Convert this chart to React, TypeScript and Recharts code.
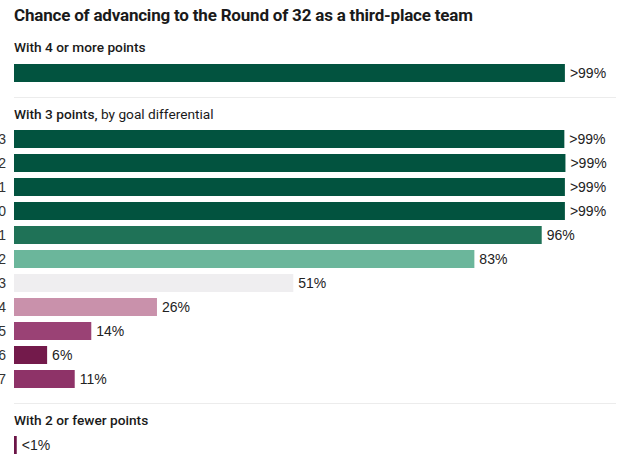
import { BarChart, Bar, XAxis, YAxis, LabelList, Cell } from 'recharts'

const topValues = [99.8]
const topLabels = ['>99%']

const goalDiffs = ['+3', '+2', '+1', '0', '−1', '−2', '−3', '−4', '−5', '−6', '−7']
const goalDiffValues = [99.7, 99.9, 99.8, 99.8, 95.6, 83.4, 50.6, 25.9, 14, 6, 11]
const goalDiffLabels = ['>99%', '>99%', '>99%', '>99%', '96%', '83%', '51%', '26%', '14%', '6%', '11%']

const lowValues = [0.5]
const lowLabels = ['<1%']

const goalDiffColors = [
  '#02533f', '#02533f', '#02533f', '#02533f', '#1f7257', '#6bb69b',
  '#efeef0', '#c991ab', '#9a4275', '#731a4b', '#8e3368',
]

const FONT = 'Roboto, "Noto Sans", sans-serif'
const NUM_FONT = '"Liberation Sans", Arial, sans-serif'
const labelStyle = { fill: '#222', fontSize: 14, fontFamily: NUM_FONT }

function RowChart({ rows, height, showTicks }: {
  rows: { name: string; value: number; label: string; color: string }[]
  height: number
  showTicks?: boolean
}) {
  return (
    <BarChart
      width={623}
      height={height}
      data={rows}
      layout="vertical"
      margin={{ top: 0, right: 57, bottom: 0, left: showTicks ? 0 : 14 }}
    >
      <XAxis type="number" domain={[0, 100]} hide />
      <YAxis
        type="category"
        dataKey="name"
        width={14}
        axisLine={false}
        tickLine={false}
        hide={!showTicks}
        tick={({ y, payload }: any) => (
          <text x={6} y={y} dy={5} textAnchor="end" fill="#333" fontSize={14} fontFamily={NUM_FONT}>
            {payload.value}
          </text>
        )}
      />
      <Bar dataKey="value" barSize={18} isAnimationActive={false}>
        {rows.map((r, i) => (
          <Cell key={i} fill={r.color} />
        ))}
        <LabelList dataKey="label" position="right" offset={5} style={labelStyle} />
      </Bar>
    </BarChart>
  )
}

export default function App() {
  const topRows = topValues.map((v, i) => ({ name: '4+', value: v, label: topLabels[i], color: '#02533f' }))
  const midRows = goalDiffs.map((g, i) => ({
    name: g, value: goalDiffValues[i], label: goalDiffLabels[i], color: goalDiffColors[i],
  }))
  const lowRows = lowValues.map((v, i) => ({ name: '2-', value: v, label: lowLabels[i], color: '#6b1547' }))

  const heading = { position: 'absolute' as const, left: 14, fontFamily: FONT, color: '#1a1a1a', margin: 0, whiteSpace: 'nowrap' as const }
  const rule = { position: 'absolute' as const, left: 14, width: 602, height: 1, background: '#ececec' }

  return (
    <div style={{ position: 'absolute', left: 0, top: 0, width: 623, height: 461, background: '#fff', overflow: 'hidden' }}>
      <div style={{ ...heading, top: 5, fontSize: 17, fontWeight: 700, letterSpacing: -0.2 }}>
        Chance of advancing to the Round of 32 as a third-place team
      </div>
      <div style={{ ...heading, top: 39, fontSize: 13.7, fontWeight: 500 }}>With 4 or more points</div>
      <div style={{ position: 'absolute', left: 0, top: 61 }}>
        <RowChart rows={topRows} height={24} />
      </div>
      <div style={{ ...rule, top: 97 }} />
      <div style={{ ...heading, top: 106, fontSize: 13.7 }}>
        <span style={{ fontWeight: 500 }}>With 3 points,</span> by goal differential
      </div>
      <div style={{ position: 'absolute', left: 0, top: 127 }}>
        <RowChart rows={midRows} height={264} showTicks />
      </div>
      <div style={{ ...rule, top: 403 }} />
      <div style={{ ...heading, top: 412, fontSize: 13.7, fontWeight: 500 }}>With 2 or fewer points</div>
      <div style={{ position: 'absolute', left: 0, top: 433 }}>
        <RowChart rows={lowRows} height={24} />
      </div>
    </div>
  )
}
